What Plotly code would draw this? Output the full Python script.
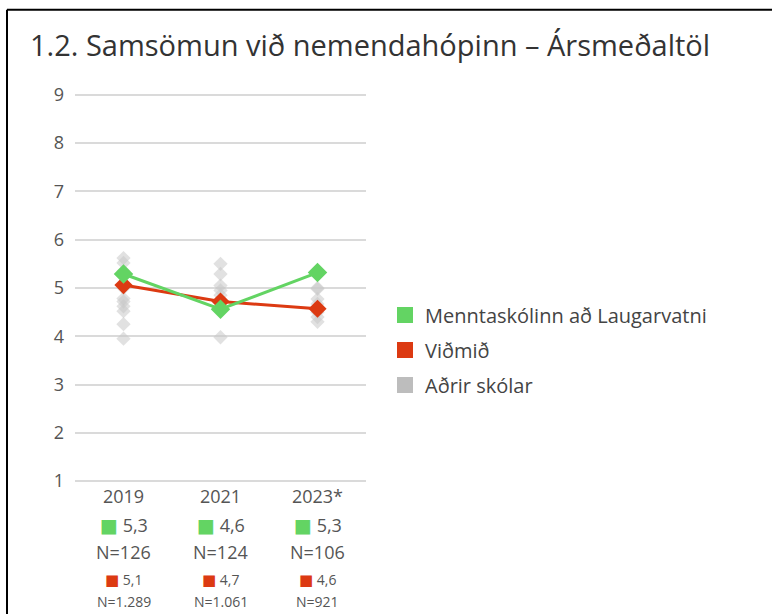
import plotly.graph_objects as go

# ---- data ----
years = ["2019", "2021", "2023*"]
school_name = "Menntaskólinn að Laugarvatni"
bench_name = "Viðmið"
others_name = "Aðrir skólar"

school_vals = [5.29, 4.56, 5.32]
bench_vals = [5.06, 4.72, 4.57]
school_n = ["126", "124", "106"]
bench_n = ["1.289", "1.061", "921"]

others_2019 = [5.62, 5.52, 5.35, 5.0, 4.78, 4.72, 4.62, 4.52, 4.25, 3.95]
others_2021 = [5.50, 5.29, 5.05, 4.95, 4.85, 4.7, 4.6, 3.98]
others_2023 = [5.0, 4.98, 4.77, 4.67, 4.50, 4.40, 4.30]

y_ticks = [1, 2, 3, 4, 5, 6, 7, 8, 9]

GREEN = "#63d463"
RED = "#dc3a12"
GRAY = "#bdbdbd"
TXT = "#555555"
FONT = "Open Sans"

W, H = 772, 614
L, R = 75, 366          # plot area pixels (x)
YMIN, YMAX = 0.9, 9.1
UNIT = 48.25
TOP = 95 - (YMAX - 9) * UNIT
BOT = 481 + (1 - YMIN) * UNIT


def px_x(p):
    return (p - L) / (R - L)


def px_y(p):
    return (BOT - p) / (BOT - TOP)


def fmt(v):
    return f"{v:.1f}".replace(".", ",")


def square(col, size):
    return f"<span style='color:{col};font-family:DejaVu Sans;font-size:{size}px'>■</span>"


fig = go.Figure()

# other schools
ox, oy = [], []
for yr, vals in zip(years, [others_2019, others_2021, others_2023]):
    ox += [yr] * len(vals)
    oy += vals
fig.add_trace(go.Scatter(
    x=ox, y=oy, mode="markers", showlegend=False, hoverinfo="skip",
    marker=dict(symbol="diamond", size=11, color="rgba(200,200,200,0.55)", line=dict(width=0)),
))

fig.add_trace(go.Scatter(
    x=years, y=bench_vals, mode="lines+markers", showlegend=False,
    line=dict(color=RED, width=3),
    marker=dict(symbol="diamond", size=14, color=RED),
))
fig.add_trace(go.Scatter(
    x=years, y=school_vals, mode="lines+markers", showlegend=False,
    line=dict(color=GREEN, width=3),
    marker=dict(symbol="diamond", size=15, color=GREEN),
))

# legend entries
for name, col, grp in [(school_name, GREEN, "a"), (bench_name, RED, "b"), (others_name, GRAY, "c")]:
    fig.add_trace(go.Scatter(
        x=[None], y=[None], mode="markers", name=name, legendgroup=grp,
        marker=dict(symbol="square", size=16, color=col),
    ))

# annotations below the axis (x given as category index)
for i, yr in enumerate(years):
    fig.add_annotation(x=i, y=px_y(525), xref="x", yref="paper", showarrow=False,
                       yanchor="middle",
                       text=f"{square(GREEN, 19)} {fmt(school_vals[i])}",
                       font=dict(size=18, color=TXT, family=FONT))
    fig.add_annotation(x=i, y=px_y(552), xref="x", yref="paper", showarrow=False,
                       yanchor="middle",
                       text=f"N={school_n[i]}",
                       font=dict(size=18, color=TXT, family=FONT))
    fig.add_annotation(x=i, y=px_y(579), xref="x", yref="paper", showarrow=False,
                       yanchor="middle",
                       text=f"{square(RED, 15)} {fmt(bench_vals[i])}",
                       font=dict(size=14, color=TXT, family=FONT))
    fig.add_annotation(x=i, y=px_y(601), xref="x", yref="paper", showarrow=False,
                       yanchor="middle",
                       text=f"N={bench_n[i]}",
                       font=dict(size=14, color=TXT, family=FONT))

# frame lines (left and top)
fig.add_shape(type="line", xref="paper", yref="paper",
              x0=px_x(7), x1=px_x(7), y0=px_y(10), y1=px_y(640),
              line=dict(color="black", width=2))
fig.add_shape(type="line", xref="paper", yref="paper",
              x0=px_x(7), x1=px_x(800), y0=px_y(10), y1=px_y(10),
              line=dict(color="black", width=2))

fig.update_layout(
    width=W, height=H,
    margin=dict(l=L, r=W - R, t=TOP, b=H - BOT, pad=0),
    paper_bgcolor="white", plot_bgcolor="white",
    font=dict(family=FONT, color=TXT),
    title=dict(text="1.2. Samsömun við nemendahópinn – Ársmeðaltöl",
               x=30 / W, xanchor="left", xref="container",
               y=1 - 46 / H, yanchor="middle", yref="container",
               font=dict(size=29, color="#333333", family=FONT)),
    showlegend=True,
    legend=dict(x=px_x(385), xanchor="left", y=px_y(350), yanchor="middle",
                font=dict(size=20, color="#444444", family=FONT),
                tracegroupgap=6, bgcolor="rgba(0,0,0,0)"),
    xaxis=dict(type="category", categoryorder="array", categoryarray=years,
               range=[-0.5, 2.5], showgrid=False, zeroline=False, showline=False,
               tickfont=dict(size=18, color=TXT, family=FONT), ticks="", ticklabelstandoff=-2),
    yaxis=dict(range=[YMIN, YMAX], tickvals=y_ticks, showgrid=True,
               gridcolor="#dadada", gridwidth=2, zeroline=False, showline=False,
               tickfont=dict(size=18, color=TXT, family=FONT), ticks="", ticklabelstandoff=10),
)

fig.write_html("out.html", config={"displayModeBar": False},
               post_script="document.body.style.margin='0';")
